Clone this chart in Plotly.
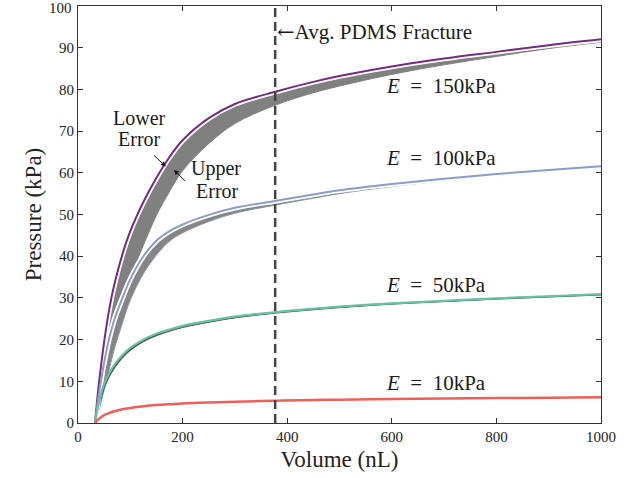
import plotly.graph_objects as go

volume = [32.5, 40, 50, 60, 70, 85, 100, 125, 150, 175, 200, 250, 300, 379,
          450, 500, 600, 700, 800, 900, 1000]

# E = 150 kPa: coloured line and lower edge of grey error band
p150 = [0, 9.5, 19.5, 27.5, 33.5, 40.5, 46, 53, 58.8, 63.8, 67.8, 73.1, 76.5,
        79.5, 81.8, 83.2, 85.5, 87.4, 89.0, 90.6, 92.0]
p150_lo = [0, 3, 10, 17, 23, 30, 35, 42.6, 49.8, 55.5, 60.5, 67, 71.8, 76.3,
           79.2, 80.8, 83.6, 85.9, 87.9, 89.8, 91.3]

# E = 100 kPa
p100 = [0, 7, 14.5, 20.5, 25, 30, 34.5, 40, 43.7, 46.0, 47.6, 49.9, 51.6, 53.3,
        54.8, 55.8, 57.3, 58.6, 59.7, 60.7, 61.6]
p100_lo = [0, 3, 8, 13, 18, 24, 29.5, 35.8, 40.3, 43.6, 45.6, 48.3, 50.3, 52.3,
           53.9, 55.0, 56.7, 58.1, 59.3, 60.3, 61.2]

# E = 50 kPa
p50 = [0, 5, 9.3, 12, 14, 16.3, 18, 20, 21.4, 22.4, 23.3, 24.5, 25.5, 26.6,
       27.4, 27.9, 28.7, 29.3, 29.9, 30.4, 30.9]
p50_lo = [0, 4.2, 8.3, 11.1, 13.2, 15.6, 17.4, 19.5, 20.95, 22.0, 22.9, 24.15,
          25.2, 26.35, 27.15, 27.65, 28.5, 29.1, 29.7, 30.2, 30.7]

# E = 10 kPa
p10 = [0, 1.0, 1.9, 2.4, 2.8, 3.3, 3.6, 4.0, 4.3, 4.5, 4.7, 4.9, 5.1, 5.35,
       5.5, 5.6, 5.75, 5.85, 5.97, 6.07, 6.17]

fracture_volume = 377
x_ticks = [0, 200, 400, 600, 800, 1000]
y_ticks = [0, 10, 20, 30, 40, 50, 60, 70, 80, 90, 100]

SP = "\u2002"
labels = [f"<i>E</i>{SP}={SP}150kPa", f"<i>E</i>{SP}={SP}100kPa",
          f"<i>E</i>{SP}={SP}50kPa", f"<i>E</i>{SP}={SP}10kPa"]
label_p = [80.8, 63.5, 33.2, 9.6]

SERIF = "Liberation Serif, Times New Roman, serif"

fig = go.Figure()

spl = dict(shape="spline", smoothing=1.0)

def band(lo, hi, color, edge):
    fig.add_trace(go.Scatter(x=volume, y=lo, mode="lines",
                             line=dict(width=1, color=edge, **spl),
                             hoverinfo="skip", showlegend=False))
    fig.add_trace(go.Scatter(x=volume, y=hi, mode="lines", fill="tonexty",
                             fillcolor=color,
                             line=dict(width=1, color=edge, **spl),
                             hoverinfo="skip", showlegend=False))

band(p150_lo, p150, "#808080", "#808080")
band(p100_lo, p100, "#858585", "#8a93b8")
band(p50_lo, p50, "#4d4d4d", "#4d4d4d")

# white halos around the coloured lines of the two upper curves
for ys in (p150, p100):
    fig.add_trace(go.Scatter(x=volume, y=ys, mode="lines",
                             line=dict(width=5.5, color="white", **spl),
                             hoverinfo="skip", showlegend=False))

for ys, col, w in ((p150, "#762a83", 2), (p100, "#8b9ccc", 2),
                   (p50, "#66c2a5", 2.2), (p10, "#ef5f5a", 2.5)):
    fig.add_trace(go.Scatter(x=volume, y=ys, mode="lines",
                             line=dict(width=w, color=col, **spl),
                             hoverinfo="skip", showlegend=False))

# fracture line
fig.add_shape(type="line", xref="x", yref="y", x0=fracture_volume, x1=fracture_volume,
              y0=0, y1=100, line=dict(color="#444444", width=2.5, dash="9px,5px"))

ann_font = dict(family=SERIF, size=21, color="#1a1a1a")
fig.add_annotation(x=fracture_volume, y=93.8, xref="x", yref="y", xanchor="left",
                   yanchor="middle",
                   text="<span style='font-family:DejaVu Serif'>\u2190</span>Avg. PDMS Fracture",
                   showarrow=False, font=dict(family=SERIF, size=21, color="#1a1a1a"))
for t, p in zip(labels, label_p):
    fig.add_annotation(x=586, y=p, xref="x", yref="y", xanchor="left", yanchor="middle",
                       text=t, showarrow=False, font=ann_font)

small_font = dict(family=SERIF, size=20, color="#1a1a1a")
fig.add_annotation(x=118, y=73.2, text="Lower", showarrow=False, font=small_font,
                   xanchor="center", yanchor="middle")
fig.add_annotation(x=118, y=68.1, text="Error", showarrow=False, font=small_font,
                   xanchor="center", yanchor="middle")
fig.add_annotation(x=264, y=61.1, text="Upper", showarrow=False, font=small_font,
                   xanchor="center", yanchor="middle")
fig.add_annotation(x=266, y=55.6, text="Error", showarrow=False, font=small_font,
                   xanchor="center", yanchor="middle")

# arrows
fig.add_annotation(x=168, y=61.5, ax=142.7, ay=64.5, xref="x", yref="y",
                   axref="x", ayref="y", text="", showarrow=True,
                   arrowhead=2, arrowsize=1, arrowwidth=1, arrowcolor="#1a1a1a")
fig.add_annotation(x=183.4, y=60.7, ax=207.6, ay=57.7, xref="x", yref="y",
                   axref="x", ayref="y", text="", showarrow=True,
                   arrowhead=2, arrowsize=1, arrowwidth=1, arrowcolor="#1a1a1a")

tick_font = dict(family=SERIF, size=15, color="#222222")
# top y tick label (plotly drops it at the paper edge)
fig.add_annotation(x=0, y=y_ticks[-1], xref="paper", yref="y", xanchor="right",
                   yanchor="middle", xshift=-4, yshift=-2, text=str(y_ticks[-1]),
                   showarrow=False, font=tick_font)

axis_common = dict(showgrid=False, zeroline=False, showline=True, linecolor="#333333",
                   linewidth=1, mirror="ticks", ticks="inside", ticklen=5,
                   tickcolor="#333333", automargin=False, tickfont=tick_font)

fig.update_layout(
    width=639, height=478,
    margin=dict(l=78, r=38, t=6, b=55),
    paper_bgcolor="white", plot_bgcolor="white",
    showlegend=False,
    xaxis=dict(range=[0, 1000], tickvals=x_ticks,
               title=dict(text="Volume (nL)", font=dict(family=SERIF, size=23, color="#222222"),
                          standoff=6),
               **axis_common),
    yaxis=dict(range=[0, 100], tickvals=y_ticks,
               title=dict(text="Pressure (kPa)", font=dict(family=SERIF, size=23, color="#222222"),
                          standoff=10),
               **axis_common),
)

fig.write_html("out.html", config={"displayModeBar": False},
               post_script="document.body.style.margin='0';document.body.style.overflow='hidden';")
